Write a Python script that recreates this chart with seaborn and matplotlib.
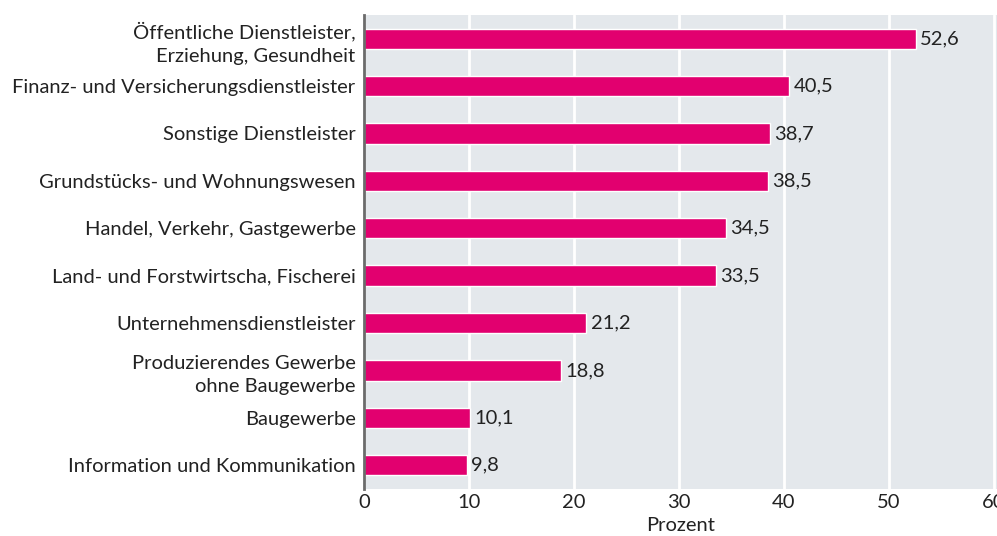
import matplotlib
matplotlib.use("Agg")
import matplotlib.pyplot as plt
import seaborn as sns
import pandas as pd

# Werte
branchen = [
    "Öffentliche Dienstleister,\nErziehung, Gesundheit",
    "Finanz- und Versicherungsdienstleister",
    "Sonstige Dienstleister",
    "Grundstücks- und Wohnungswesen",
    "Handel, Verkehr, Gastgewerbe",
    "Land- und Forstwirtscha, Fischerei",
    "Unternehmensdienstleister",
    "Produzierendes Gewerbe\nohne Baugewerbe",
    "Baugewerbe",
    "Information und Kommunikation",
]
prozent = [52.6, 40.5, 38.7, 38.5, 34.5, 33.5, 21.2, 18.8, 10.1, 9.8]
x_ticks = [0, 10, 20, 30, 40, 50, 60]

df = pd.DataFrame({"branche": branchen, "prozent": prozent})

sns.set_style("white")
plt.rcParams["font.family"] = ["Lato", "DejaVu Sans"]

BAR = "#E2006F"
BG = "#E4E8EC"
TXT = "#222222"
FS = 14.5

fig = plt.figure(figsize=(9.97, 5.36), dpi=100)
ax = fig.add_axes([0.365, 0.088, 0.635, 0.884])
ax.set_facecolor(BG)

sns.barplot(data=df, x="prozent", y="branche", orient="h", color=BAR,
            width=0.43, saturation=1, ax=ax, zorder=3)

ax.set_xlim(0, 60.3)
ax.set_ylim(9.5, -0.5)
ax.set_xticks(x_ticks)
ax.set_xticklabels([str(t) for t in x_ticks], fontsize=FS, color=TXT)
ax.tick_params(axis="y", labelsize=FS, labelcolor=TXT, length=0, pad=6)
ax.tick_params(axis="x", length=0, pad=4)
for lbl in ax.get_yticklabels():
    lbl.set_horizontalalignment("right")
    lbl.set_multialignment("right")
    lbl.set_linespacing(1.45)

ax.xaxis.grid(True, color="white", linewidth=2, zorder=1)
ax.set_axisbelow(True)
ax.set_xlabel("Prozent", fontsize=FS, color=TXT, labelpad=4)
ax.set_ylabel("")

for side in ["top", "right", "bottom"]:
    ax.spines[side].set_visible(False)
ax.spines["left"].set_color("#6b6b6b")
ax.spines["left"].set_linewidth(2)
ax.spines["left"].set_zorder(4)

ax.bar_label(ax.containers[0], labels=[f"{v:.1f}".replace(".", ",") for v in prozent],
             padding=3, fontsize=FS, color=TXT)

fig.savefig("out.png", dpi=100)
